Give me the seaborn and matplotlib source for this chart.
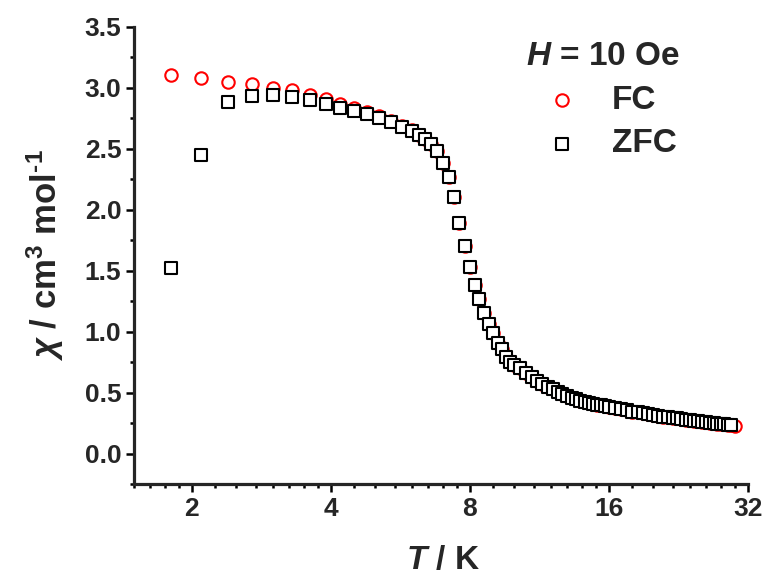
import numpy as np
import pandas as pd
import matplotlib
matplotlib.use("Agg")
import matplotlib.pyplot as plt
import seaborn as sns
from matplotlib.ticker import FixedLocator, FixedFormatter, MultipleLocator, FormatStrFormatter

# ---- data ----
T_low = [1.8, 2.1, 2.4, 2.7, 3.0, 3.3, 3.6, 3.9, 4.2, 4.5, 4.8, 5.1, 5.4, 5.7, 6.0]
chi_fc_low = [3.10, 3.08, 3.05, 3.03, 3.00, 2.98, 2.94, 2.905, 2.87, 2.835, 2.80, 2.765, 2.725, 2.685, 2.65]
chi_zfc_low = [1.525, 2.45, 2.88, 2.93, 2.94, 2.925, 2.90, 2.865, 2.835, 2.81, 2.785, 2.75, 2.715, 2.675, 2.645]

T_high = [6.2, 6.4, 6.6, 6.8, 7.0, 7.2, 7.4, 7.6, 7.8, 8.0,
          8.2, 8.4, 8.6, 8.8, 9.0, 9.2, 9.4, 9.6, 9.8, 10.0,
          10.3, 10.6, 10.9, 11.2, 11.5, 11.8, 12.1, 12.4, 12.7, 13.0,
          13.3, 13.6, 13.9, 14.2, 14.5, 14.8, 15.1, 15.4, 15.7, 16.0,
          16.5, 17.0, 17.5, 18.0, 18.5, 19.0, 19.5, 20.0, 20.5, 21.0,
          21.5, 22.0, 22.5, 23.0, 23.5, 24.0, 24.5, 25.0, 25.5, 26.0,
          26.5, 27.0, 27.5, 28.0, 28.5, 29.0, 29.5, 30.0]
chi_high = [2.615, 2.577, 2.536, 2.48, 2.38, 2.265, 2.10, 1.89, 1.70, 1.53,
            1.38, 1.265, 1.155, 1.06, 0.985, 0.91, 0.855, 0.795, 0.75, 0.725,
            0.698, 0.657, 0.626, 0.597, 0.569, 0.546, 0.525, 0.505, 0.487, 0.472,
            0.459, 0.446, 0.434, 0.424, 0.415, 0.407, 0.401, 0.394, 0.388, 0.382,
            0.373, 0.363, 0.354, 0.344, 0.337, 0.33, 0.323, 0.316, 0.309, 0.303,
            0.298, 0.293, 0.288, 0.283, 0.278, 0.274, 0.27, 0.266, 0.262, 0.258,
            0.254, 0.25, 0.246, 0.242, 0.238, 0.234, 0.231, 0.228]

series_labels = ["FC", "ZFC"]
legend_title = r"$H$ = 10 Oe"
x_ticks = [2, 4, 8, 16, 32]
x_ticklabels = ["2", "4", "8", "16", "32"]
x_minor_subs = [1.125, 1.25, 1.375, 1.5, 1.625, 1.75, 1.875]
y_ticks = [0.0, 0.5, 1.0, 1.5, 2.0, 2.5, 3.0, 3.5]

fc = pd.DataFrame({"T": T_low + T_high, "chi": chi_fc_low + chi_high})
zfc = pd.DataFrame({"T": T_low + T_high[:-1], "chi": chi_zfc_low + chi_high[:-1]})

# ---- style ----
sns.set_style("ticks")
plt.rcParams.update({
    "font.family": ["Liberation Sans", "DejaVu Sans"],
    "font.weight": "bold",
    "mathtext.fontset": "custom",
    "mathtext.rm": "Liberation Sans:bold",
    "mathtext.it": "Liberation Sans:italic:bold",
    "mathtext.bf": "Liberation Sans:bold",
    "axes.linewidth": 2.3,
})

W, H = 766, 579
fig = plt.figure(figsize=(W / 100, H / 100), dpi=100)
ax = fig.add_axes([134 / W, 1 - 484 / H, (747.7 - 134) / W, (484 - 26.7) / H])

sns.scatterplot(data=fc, x="T", y="chi", ax=ax, marker="o", s=80,
                facecolor="white", edgecolor="#ff0000", linewidth=1.5,
                label=series_labels[0], zorder=2)
sns.scatterplot(data=zfc, x="T", y="chi", ax=ax, marker="s", s=64,
                facecolor="white", edgecolor="black", linewidth=1.5,
                label=series_labels[1], zorder=3)

ax.set_xscale("log", base=2)
ax.set_xlim(1.5, 32)
ax.set_ylim(-0.25, 3.5)

ax.xaxis.set_major_locator(FixedLocator(x_ticks))
ax.xaxis.set_major_formatter(FixedFormatter(x_ticklabels))
minor_x = [b * s for b in [1, 2, 4, 8, 16] for s in x_minor_subs]
ax.xaxis.set_minor_locator(FixedLocator(minor_x))
ax.xaxis.set_minor_formatter(FixedFormatter([""] * len(minor_x)))

ax.yaxis.set_major_locator(FixedLocator(y_ticks))
ax.yaxis.set_major_formatter(FormatStrFormatter("%.1f"))
ax.yaxis.set_minor_locator(MultipleLocator(0.25))

for side in ["top", "right"]:
    ax.spines[side].set_visible(False)

ax.tick_params(which="major", direction="out", length=6, width=1.8,
               labelsize=19, pad=3, color="black")
ax.tick_params(which="minor", direction="out", length=3, width=1.8, color="black")
for lab in ax.get_xticklabels() + ax.get_yticklabels():
    lab.set_fontweight("bold")

ax.set_xlabel("")
ax.set_ylabel("")
fig.text(443 / W, 1 - 560 / H, r"$T$ / K", ha="center", va="center", fontsize=24, fontweight="bold")
fig.text(45 / W, 1 - 255 / H, r"$\chi$ / cm$^{3}$ mol$^{\text{-1}}$", ha="center", va="center",
         rotation=90, fontsize=25, fontweight="bold")

leg = ax.legend(loc="upper left", bbox_to_anchor=(526 / W, 1 - 41 / H),
                bbox_transform=fig.transFigure, frameon=False,
                title=legend_title, fontsize=24, title_fontsize=24,
                handlelength=2.0, handletextpad=0.5, labelspacing=0.38,
                borderpad=0, borderaxespad=0)
leg.get_title().set_fontweight("bold")
for t in leg.get_texts():
    t.set_fontweight("bold")

fig.savefig("out.png", dpi=100)
